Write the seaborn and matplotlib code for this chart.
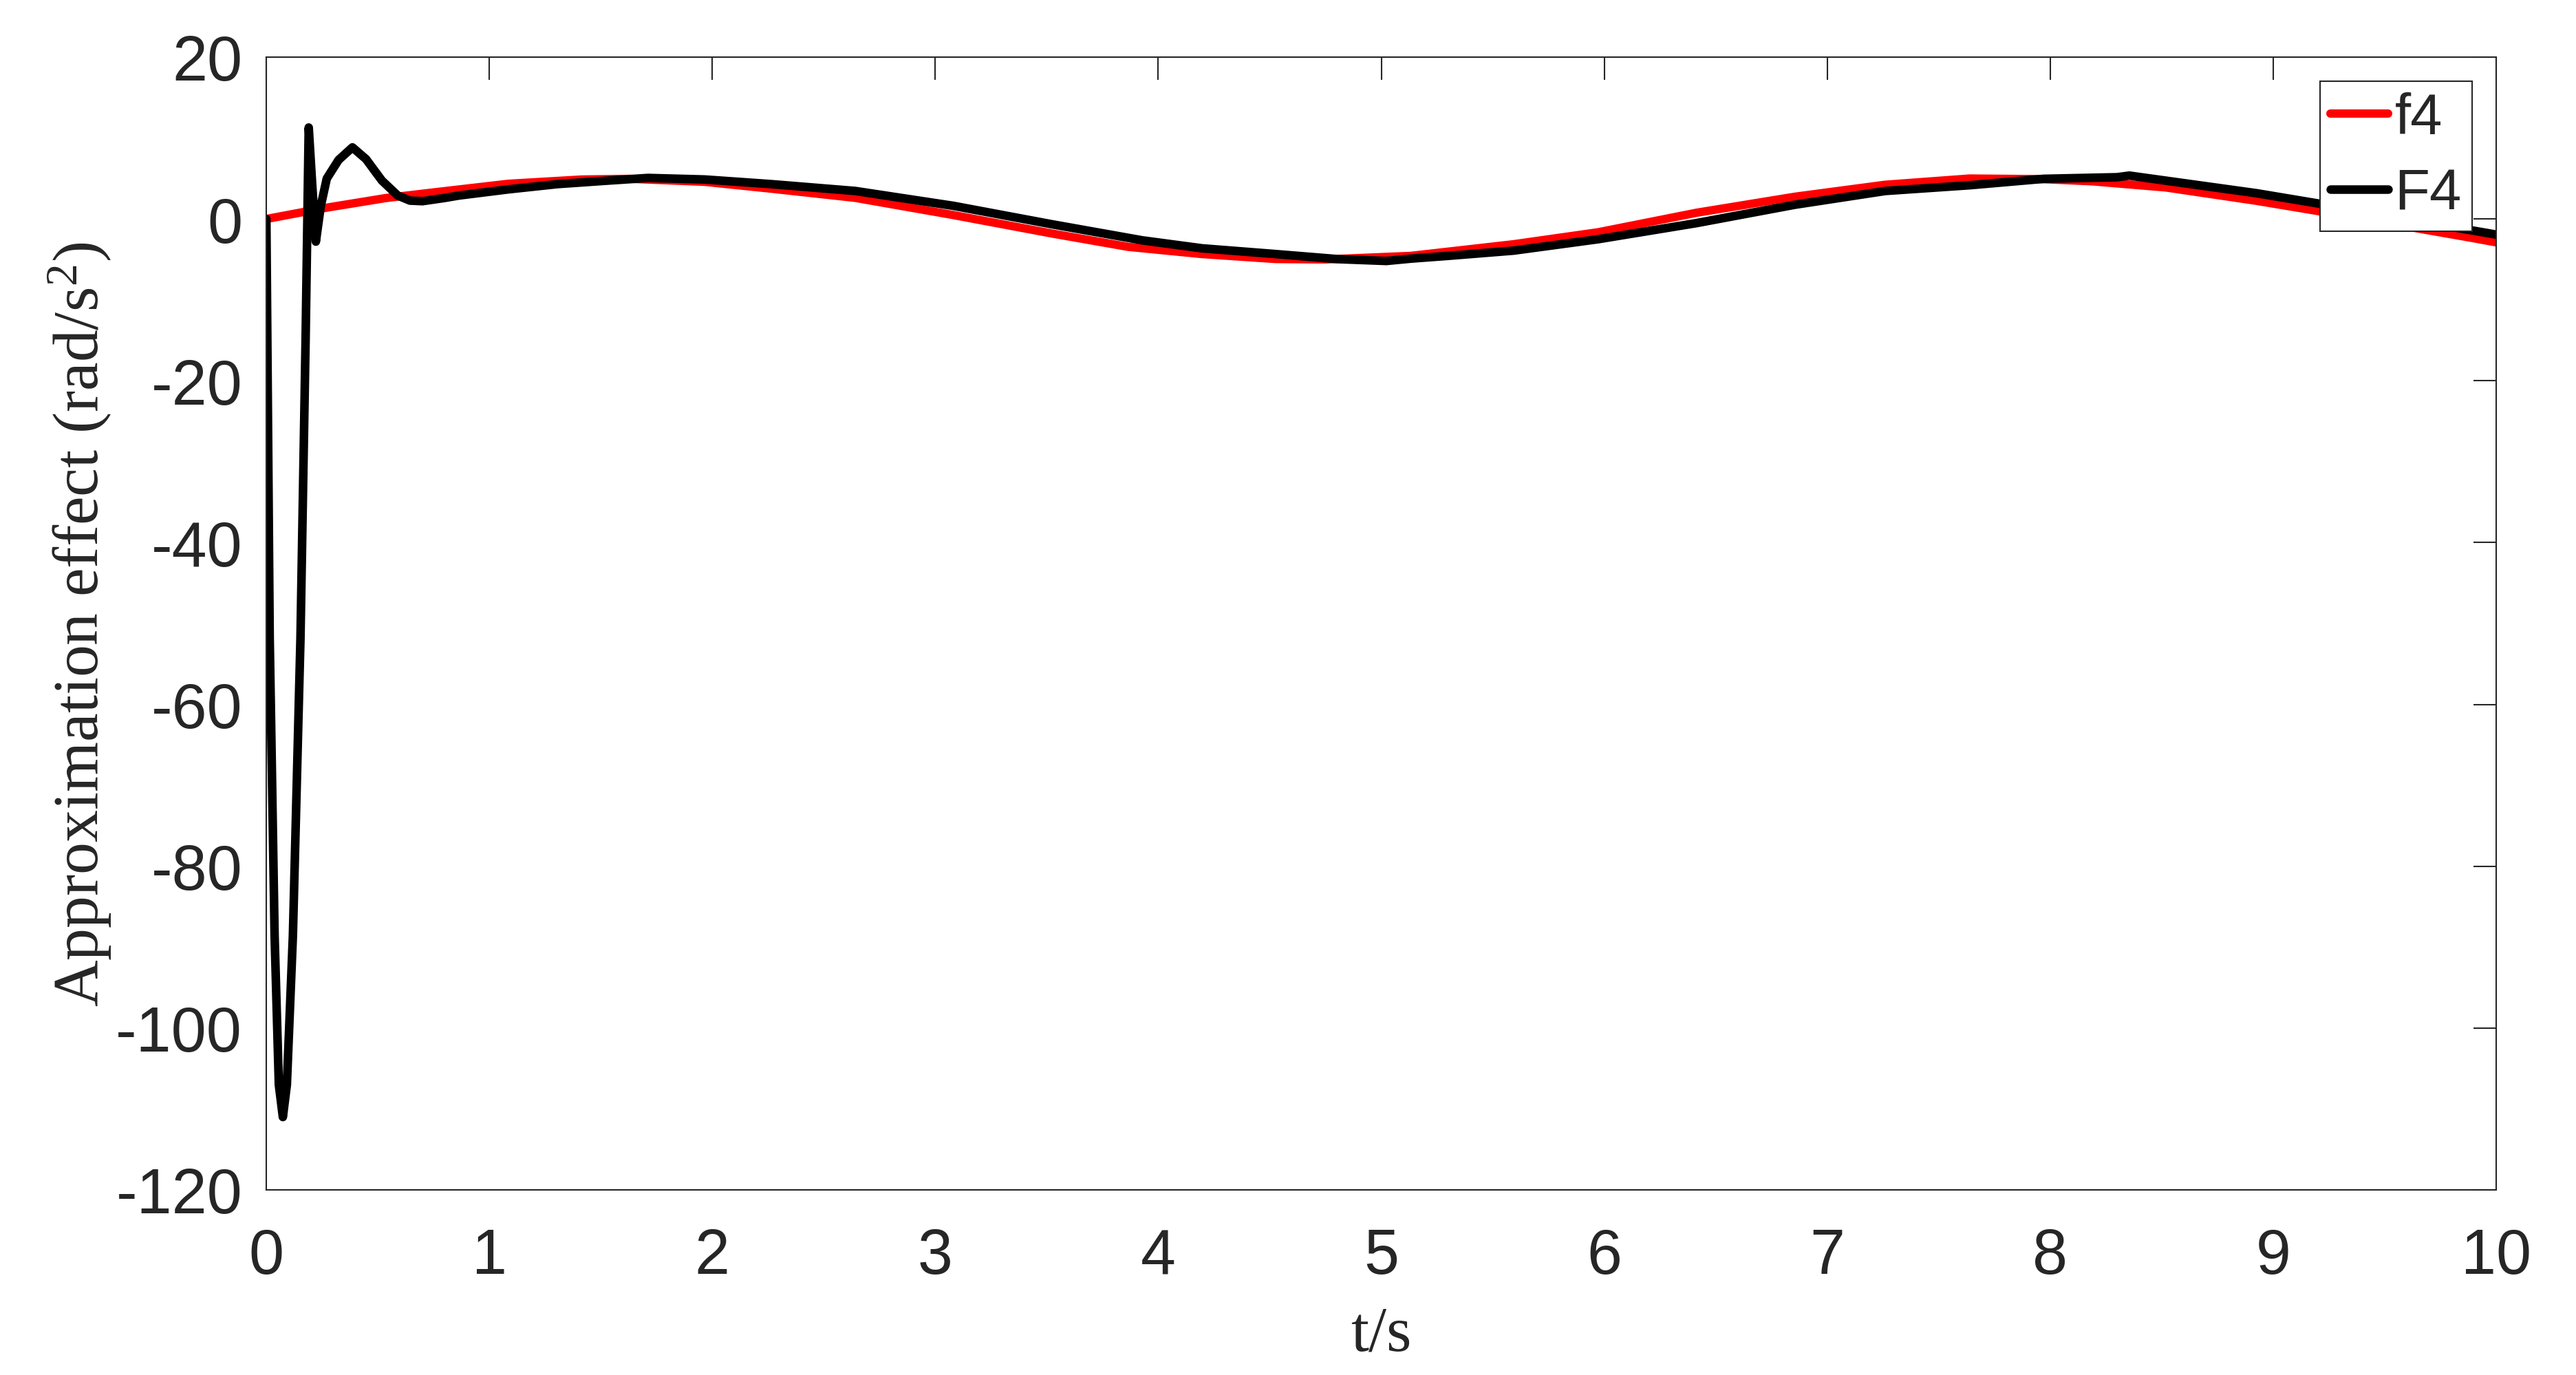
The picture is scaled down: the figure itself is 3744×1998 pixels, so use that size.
import matplotlib
matplotlib.use("Agg")
import matplotlib.pyplot as plt
import seaborn as sns

# f4: reference signal
t_f4 = [0.0, 0.271, 0.534, 0.755, 1.085, 1.415, 1.635, 1.966, 2.262, 2.641,
        3.082, 3.522, 3.866, 4.197, 4.527, 4.75, 5.133, 5.594, 5.973, 6.414,
        6.855, 7.26, 7.639, 7.97, 8.19, 8.52, 8.926, 9.235, 9.893, 10.0]
v_f4 = [0.0, 1.4, 2.58, 3.3, 4.35, 4.88, 4.96, 4.59, 3.75, 2.61,
        0.48, -1.79, -3.45, -4.34, -4.95, -5.0, -4.56, -3.12, -1.64, 0.77,
        2.75, 4.23, 5.0, 4.92, 4.65, 3.89, 2.24, 0.82, -2.35, -2.89]

# F4: approximation, with the start-up transient
t_F4 = [0.0, 0.015, 0.037, 0.056, 0.074, 0.092, 0.119, 0.153, 0.176, 0.19,
        0.205, 0.222, 0.244, 0.271, 0.324, 0.386, 0.447, 0.518, 0.589, 0.644,
        0.70, 0.80, 0.864, 1.085, 1.305, 1.525, 1.712, 1.966, 2.262, 2.641,
        3.082, 3.522, 3.928, 4.197, 4.527, 4.803, 5.023, 5.133, 5.299, 5.594,
        5.973, 6.414, 6.855, 7.26, 7.639, 7.97, 8.3, 8.355, 8.52, 8.926,
        9.235, 9.5, 9.893, 10.0]
v_F4 = [0.0, -51.8, -88.6, -107.0, -111.0, -107.0, -88.6, -51.8, -14.9, 11.3,
        4.5, -2.8, 1.6, 5.0, 7.3, 8.85, 7.4, 4.75, 2.9, 2.27,
        2.2, 2.6, 2.9, 3.66, 4.31, 4.73, 5.07, 4.88, 4.31, 3.46,
        1.62, -0.65, -2.64, -3.63, -4.34, -4.96, -5.19, -4.9, -4.56, -3.91,
        -2.5, -0.51, 1.76, 3.46, 4.17, 4.96, 5.16, 5.36, 4.73, 3.18,
        1.76, 0.4, -1.42, -1.93]

x_ticks = list(range(0, 11))
y_ticks = [-120, -100, -80, -60, -40, -20, 0, 20]

sns.set_theme(style="white")
plt.rcParams["font.family"] = ["Liberation Sans", "DejaVu Sans"]
plt.rcParams["axes.unicode_minus"] = False
plt.rcParams["mathtext.fontset"] = "custom"
plt.rcParams["mathtext.rm"] = "Liberation Serif"
plt.rcParams["mathtext.it"] = "Liberation Serif:italic"

ink = "#262626"
fig = plt.figure(figsize=(12.48, 6.663), dpi=300)
ax = fig.add_axes([0.1034, 0.1346, 0.8656, 0.8234])

sns.lineplot(x=t_f4, y=v_f4, color="#ff0000", lw=2.9, label="f4",
             sort=False, estimator=None, ax=ax)
sns.lineplot(x=t_F4, y=v_F4, color="black", lw=3.0, label="F4",
             sort=False, estimator=None, ax=ax)

ax.set_xlim(0, 10)
ax.set_ylim(-120, 20)
ax.set_xticks(x_ticks)
ax.set_yticks(y_ticks)
ax.tick_params(axis="both", direction="in", top=True, right=True,
               length=8, width=0.5, colors=ink, labelsize=22)
ax.tick_params(axis="x", pad=13)
ax.tick_params(axis="y", pad=8.4)
for s in ax.spines.values():
    s.set_visible(True)
    s.set_linewidth(0.5)
    s.set_color(ink)

ax.set_xlabel("t/s", family="Liberation Serif", fontsize=22.5, color=ink)
ax.set_ylabel("Approximation effect (rad/s$^2$)", family="Liberation Serif",
              fontsize=22.5, color=ink)
ax.xaxis.set_label_coords(0.5, -0.102)
ax.yaxis.set_label_coords(-0.0685, 0.5)

leg = ax.legend(loc="upper right", fontsize=20, frameon=True, fancybox=False,
                framealpha=1, edgecolor=ink, handlelength=1.0,
                handletextpad=0.12, borderpad=0.18, labelspacing=0.38,
                borderaxespad=0.42)
leg.get_frame().set_linewidth(0.5)

fig.savefig("out.png", dpi=300)
